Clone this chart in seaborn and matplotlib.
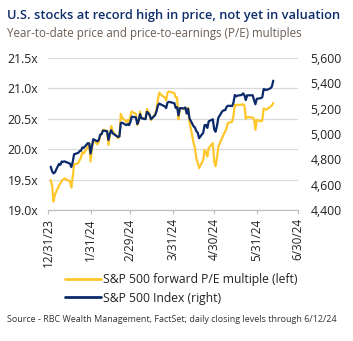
import matplotlib
matplotlib.use("Agg")
import matplotlib.pyplot as plt
import seaborn as sns
import pandas as pd
from matplotlib.lines import Line2D

# ---------------- data ----------------
dates = [
    "2024-01-02", "2024-01-03", "2024-01-04", "2024-01-05", "2024-01-08", "2024-01-09",
    "2024-01-10", "2024-01-11", "2024-01-12", "2024-01-16", "2024-01-17", "2024-01-18",
    "2024-01-19", "2024-01-22", "2024-01-23", "2024-01-24", "2024-01-25", "2024-01-26",
    "2024-01-29", "2024-01-30", "2024-01-31", "2024-02-01", "2024-02-02", "2024-02-05",
    "2024-02-06", "2024-02-07", "2024-02-08", "2024-02-09", "2024-02-12", "2024-02-13",
    "2024-02-14", "2024-02-15", "2024-02-16", "2024-02-20", "2024-02-21", "2024-02-22",
    "2024-02-23", "2024-02-26", "2024-02-27", "2024-02-28", "2024-02-29", "2024-03-01",
    "2024-03-04", "2024-03-05", "2024-03-06", "2024-03-07", "2024-03-08", "2024-03-11",
    "2024-03-12", "2024-03-13", "2024-03-14", "2024-03-15", "2024-03-18", "2024-03-19",
    "2024-03-20", "2024-03-21", "2024-03-22", "2024-03-25", "2024-03-26", "2024-03-27",
    "2024-03-28", "2024-04-01", "2024-04-02", "2024-04-03", "2024-04-04", "2024-04-05",
    "2024-04-08", "2024-04-09", "2024-04-10", "2024-04-11", "2024-04-12", "2024-04-15",
    "2024-04-16", "2024-04-17", "2024-04-18", "2024-04-19", "2024-04-22", "2024-04-23",
    "2024-04-24", "2024-04-25", "2024-04-26", "2024-04-29", "2024-04-30", "2024-05-01",
    "2024-05-02", "2024-05-03", "2024-05-06", "2024-05-07", "2024-05-08", "2024-05-09",
    "2024-05-10", "2024-05-13", "2024-05-14", "2024-05-15", "2024-05-16", "2024-05-17",
    "2024-05-20", "2024-05-21", "2024-05-22", "2024-05-23", "2024-05-24", "2024-05-28",
    "2024-05-29", "2024-05-30", "2024-05-31", "2024-06-03", "2024-06-04", "2024-06-05",
    "2024-06-06", "2024-06-07", "2024-06-10", "2024-06-11", "2024-06-12",
]

pe_multiple = [
    19.49, 19.40, 19.14, 19.25, 19.40, 19.44, 19.48, 19.50, 19.52, 19.47, 19.37, 19.55,
    19.75, 19.77, 19.82, 19.86, 19.95, 19.93, 20.04, 20.10, 19.80, 20.00, 20.15, 20.08,
    20.12, 20.22, 20.25, 20.32, 20.30, 20.07, 20.22, 20.38, 20.30, 20.18, 20.20, 20.58,
    20.52, 20.45, 20.48, 20.42, 20.55, 20.62, 20.58, 20.40, 20.45, 20.62, 20.52, 20.50,
    20.66, 20.62, 20.56, 20.48, 20.58, 20.66, 20.82, 20.93, 20.90, 20.85, 20.80, 20.93,
    20.95, 20.92, 20.85, 20.85, 20.49, 20.68, 20.66, 20.68, 20.60, 20.68, 20.45, 20.10,
    20.02, 19.85, 19.78, 19.69, 19.82, 19.99, 19.95, 19.88, 20.02, 20.10, 19.80, 19.72,
    19.85, 20.04, 20.20, 20.25, 20.29, 20.35, 20.43, 20.45, 20.55, 20.73, 20.72, 20.73,
    20.73, 20.74, 20.72, 20.50, 20.53, 20.52, 20.50, 20.32, 20.48, 20.46, 20.47, 20.67,
    20.66, 20.65, 20.70, 20.72, 20.76,
]

sp500_index = [
    4742, 4705, 4689, 4697, 4764, 4757, 4783, 4780, 4784, 4766, 4739, 4780,
    4840, 4851, 4865, 4868, 4894, 4891, 4928, 4925, 4846, 4906, 4959, 4942,
    4954, 4995, 4998, 5027, 5022, 4953, 5001, 5030, 5006, 4976, 4982, 5087,
    5089, 5070, 5078, 5070, 5096, 5137, 5131, 5079, 5105, 5157, 5124, 5117,
    5175, 5165, 5150, 5117, 5149, 5179, 5225, 5241, 5234, 5218, 5204, 5248,
    5254, 5243, 5205, 5211, 5147, 5204, 5202, 5209, 5161, 5199, 5123, 5061,
    5051, 5022, 5011, 4967, 5010, 5070, 5072, 5048, 5100, 5116, 5036, 5018,
    5064, 5128, 5181, 5187, 5188, 5214, 5223, 5221, 5247, 5308, 5297, 5303,
    5308, 5321, 5307, 5268, 5305, 5306, 5267, 5235, 5278, 5283, 5291, 5354,
    5352, 5347, 5361, 5375, 5421,
]

tick_dates = ["2023-12-31", "2024-01-31", "2024-02-29", "2024-03-31",
              "2024-04-30", "2024-05-31", "2024-06-30"]
tick_labels = ["12/31/23", "1/31/24", "2/29/24", "3/31/24", "4/30/24", "5/31/24", "6/30/24"]

left_ticks = [19.0, 19.5, 20.0, 20.5, 21.0, 21.5]
left_labels = ["19.0x", "19.5x", "20.0x", "20.5x", "21.0x", "21.5x"]
right_ticks = [4400, 4600, 4800, 5000, 5200, 5400, 5600]
right_labels = ["4,400", "4,600", "4,800", "5,000", "5,200", "5,400", "5,600"]

series_names = ["S&P 500 forward P/E multiple (left)", "S&P 500 Index (right)"]
title = "U.S. stocks at record high in price, not yet in valuation"
subtitle = "Year-to-date price and price-to-earnings (P/E) multiples"
source = "Source - RBC Wealth Management, FactSet; daily closing levels through 6/12/24"

# ---------------- styling ----------------
sns.set_theme(style="white")
FONT = ["Open Sans", "DejaVu Sans"]
plt.rcParams["font.family"] = FONT

GOLD = "#FFC72C"
NAVY = "#0A2A6B"
TEXT = "#222222"
GRID = "#DADADA"

df = pd.DataFrame({"date": pd.to_datetime(dates), "pe": pe_multiple, "idx": sp500_index})

fig = plt.figure(figsize=(3.53, 3.41), dpi=100)
ax = fig.add_axes([48 / 353, 1 - 210 / 341, 250 / 353, 152 / 341])
ax2 = ax.twinx()

sns.lineplot(data=df, x="date", y="pe", ax=ax, color=GOLD, linewidth=1.6)
sns.lineplot(data=df, x="date", y="idx", ax=ax2, color=NAVY, linewidth=1.6)

ax.set_xlim(pd.Timestamp(tick_dates[0]), pd.Timestamp(tick_dates[-1]))
ax.set_ylim(19.0, 21.5)
ax2.set_ylim(4400, 5600)

ax.set_yticks(left_ticks)
ax.set_yticklabels(left_labels)
ax2.set_yticks(right_ticks)
ax2.set_yticklabels(right_labels)
ax.set_xticks(pd.to_datetime(tick_dates))
ax.set_xticklabels(tick_labels, rotation=90)

for a in (ax, ax2):
    a.set_xlabel("")
    a.set_ylabel("")
    for s in ("top", "left", "right"):
        a.spines[s].set_visible(False)
    a.spines["bottom"].set_color("#BFBFBF")
    a.spines["bottom"].set_linewidth(0.8)

ax.yaxis.grid(True, color=GRID, linewidth=0.9)
ax.set_axisbelow(True)
ax.tick_params(axis="y", length=0, pad=7, labelsize=8.8, labelcolor=TEXT)
ax2.tick_params(axis="y", length=0, pad=9, labelsize=8.8, labelcolor=TEXT)
ax.tick_params(axis="x", length=3, width=0.8, color="#BFBFBF", pad=3,
               labelsize=8.5, labelcolor=TEXT, bottom=True)

fig.text(7 / 353, 1 - 16 / 341, title, fontsize=9.3, color="#0E2D6B",
         fontweight="semibold", va="center", ha="left")
fig.text(7 / 353, 1 - 34 / 341, subtitle, fontsize=8.3, color="#6B5E55",
         va="center", ha="left")
fig.text(7 / 353, 1 - 320 / 341, source, fontsize=6.45, color="#333333",
         va="center", ha="left")

handles = [Line2D([0], [0], color=GOLD, lw=2), Line2D([0], [0], color=NAVY, lw=2)]
fig.legend(handles, series_names, loc="center left",
           bbox_to_anchor=(60 / 353, 1 - 289 / 341), frameon=False,
           fontsize=8.7, handlelength=3.0, handletextpad=0.15, labelspacing=0.45,
           borderaxespad=0, labelcolor=TEXT)

fig.savefig("out.png", dpi=100)
